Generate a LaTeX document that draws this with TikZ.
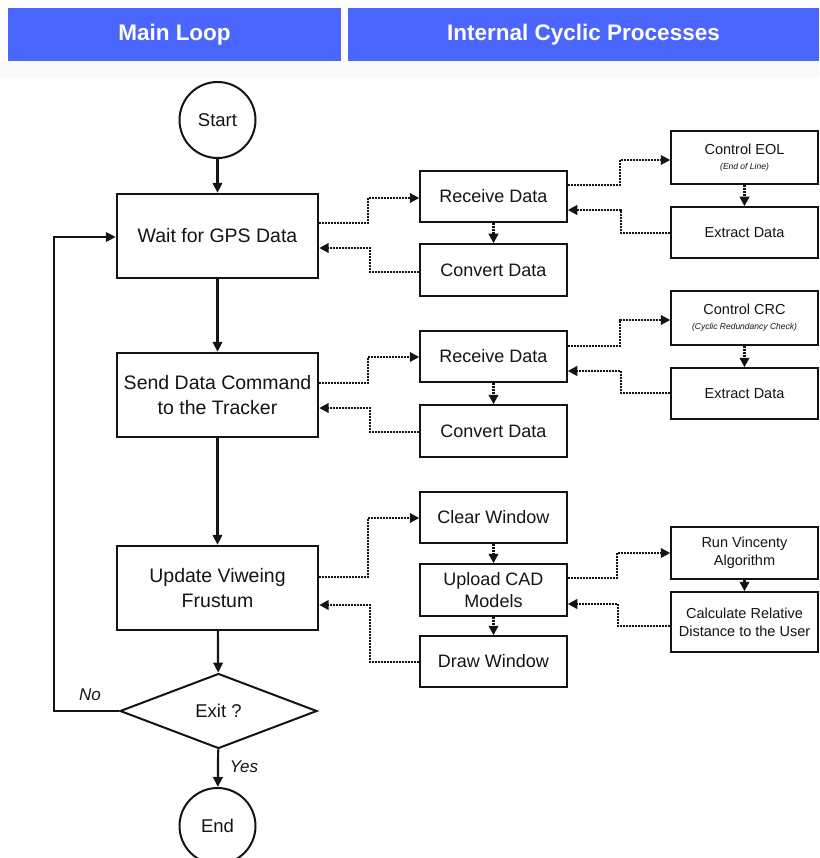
\documentclass[tikz,border=0pt]{standalone}
\usepackage{fontspec}
\setmainfont{Liberation Sans}
\usetikzlibrary{arrows.meta,shapes.geometric}
\definecolor{hdrblue}{RGB}{74,102,255}
\definecolor{ink}{RGB}{20,20,20}
\definecolor{faint}{RGB}{250,250,250}
\begin{document}
\begin{tikzpicture}[x=1pt,y=-1pt,
  hdr/.style={fill=hdrblue,draw=none,text=white,font=\bfseries\fontsize{22.5}{24}\selectfont,inner sep=0},
  mainbox/.style={draw=ink,line width=2.4pt,minimum width=201pt,minimum height=84pt,inner sep=0,align=center,font=\fontsize{19.5}{24.5}\selectfont,text=ink},
  midbox/.style={draw=ink,line width=1.5pt,minimum width=147pt,minimum height=51pt,inner sep=0,align=center,font=\fontsize{18}{22}\selectfont,text=ink},
  rbox/.style={draw=ink,line width=1.5pt,minimum width=147pt,minimum height=52pt,inner sep=0,align=center,font=\fontsize{14.5}{18}\selectfont,text=ink},
  term/.style={circle,draw=ink,line width=2pt,minimum size=76pt,inner sep=0,font=\fontsize{18.5}{22}\selectfont,text=ink},
  mainarr/.style={draw=ink,line width=2.2pt,-{Triangle[length=10pt,width=9.5pt]}},
  dotarr/.style={draw=ink,line width=2.3pt,dash pattern=on 1.8pt off 1.2pt,-{Triangle[length=9.5pt,width=9.5pt]}},
  lbl/.style={font=\itshape\fontsize{17}{20}\selectfont,text=ink,inner sep=0}
]
\useasboundingbox (0,0) rectangle (819,858);
\fill[white] (0,0) rectangle (819,858);
\fill[faint] (0,61) rectangle (819,77);

% headers
\node[hdr,minimum width=333pt,minimum height=53pt] (h1) at (174.5,34.5) {Main Loop};
\node[hdr,minimum width=471pt,minimum height=53pt] (h2) at (583.5,34.5) {Internal Cyclic Processes};

% main loop
\node[term] (start) at (217.5,120) {Start};
\node[mainbox] (wait) at (217.5,236) {Wait for GPS Data};
\node[mainbox] (send) at (217.5,395) {Send Data Command\\to the Tracker};
\node[mainbox] (upd) at (217.5,588) {Update Viweing\\Frustum};
\node[diamond,draw=ink,line width=2pt,minimum width=197pt,minimum height=75pt,inner sep=0,aspect=2.6,font=\fontsize{18.5}{22}\selectfont,text=ink] (exit) at (218.5,711) {Exit ?};
\node[term] (end) at (217.5,826) {End};

\draw[mainarr] (start) -- (wait);
\draw[mainarr] (wait) -- (send);
\draw[mainarr] (send) -- (upd);
\draw[mainarr] (upd) -- (exit);
\draw[mainarr] (exit) -- (end);
\draw[mainarr] (exit.west) -- (54,711) -- (54,237) -- (wait.west |- 0,237);
\node[lbl] (no) at (90,695) {No};
\node[lbl] (yes) at (244,767) {Yes};

% group 1
\node[midbox] (r1) at (493.5,196.5) {Receive Data};
\node[midbox,minimum height=52pt] (c1) at (493.5,270) {Convert Data};
\node[rbox,minimum height=53pt] (eol) at (744.5,157.5) {Control EOL\\[-3pt]{\itshape\fontsize{8.5}{10}\selectfont(End of Line)}};
\node[rbox,minimum height=51pt] (x1) at (744.5,232.5) {Extract Data};

\draw[dotarr] (wait.east |- 0,223) -- (368,223) -- (368,198) -- (r1.west |- 0,198);
\draw[dotarr] (c1.west |- 0,272) -- (370,272) -- (370,248) -- (wait.east |- 0,248);
\draw[dotarr] (r1.south) -- (c1.north);
\draw[dotarr] (r1.east |- 0,185) -- (620,185) -- (620,160) -- (eol.west |- 0,160);
\draw[dotarr] (x1.west |- 0,233) -- (621,233) -- (621,210) -- (r1.east |- 0,210);
\draw[dotarr] (eol.south) -- (x1.north);

% group 2
\node[midbox] (r2) at (493.5,356.5) {Receive Data};
\node[midbox,minimum height=52pt] (c2) at (493.5,431) {Convert Data};
\node[rbox,minimum height=54pt] (crc) at (744.5,318) {Control CRC\\[-3pt]{\itshape\fontsize{8.5}{10}\selectfont(Cyclic Redundancy Check)}};
\node[rbox,minimum height=51pt] (x2) at (744.5,393.5) {Extract Data};

\draw[dotarr] (send.east |- 0,383) -- (368,383) -- (368,357) -- (r2.west |- 0,357);
\draw[dotarr] (c2.west |- 0,432) -- (370,432) -- (370,408) -- (send.east |- 0,408);
\draw[dotarr] (r2.south) -- (c2.north);
\draw[dotarr] (r2.east |- 0,346) -- (620,346) -- (620,320) -- (crc.west |- 0,320);
\draw[dotarr] (x2.west |- 0,393) -- (621,393) -- (621,371) -- (r2.east |- 0,371);
\draw[dotarr] (crc.south) -- (x2.north);

% group 3
\node[midbox] (cw) at (493.5,517.5) {Clear Window};
\node[midbox,minimum height=52pt] (up) at (493.5,590) {Upload CAD\\Models};
\node[midbox] (dw) at (493.5,661.5) {Draw Window};
\node[rbox] (run) at (744.5,553) {Run Vincenty\\Algorithm};
\node[rbox,minimum height=60pt] (calc) at (744.5,622) {Calculate Relative\\Distance to the User};

\draw[dotarr] (upd.east |- 0,577) -- (368,577) -- (368,518) -- (cw.west |- 0,518);
\draw[dotarr] (dw.west |- 0,662) -- (370,662) -- (370,605) -- (upd.east |- 0,605);
\draw[dotarr] (cw.south) -- (up.north);
\draw[dotarr] (up.south) -- (dw.north);
\draw[dotarr] (up.east |- 0,578) -- (617,578) -- (617,553) -- (run.west |- 0,553);
\draw[dotarr] (calc.west |- 0,626) -- (618,626) -- (618,604) -- (up.east |- 0,604);
\draw[dotarr] (run.south) -- (calc.north);
\end{tikzpicture}
\end{document}
